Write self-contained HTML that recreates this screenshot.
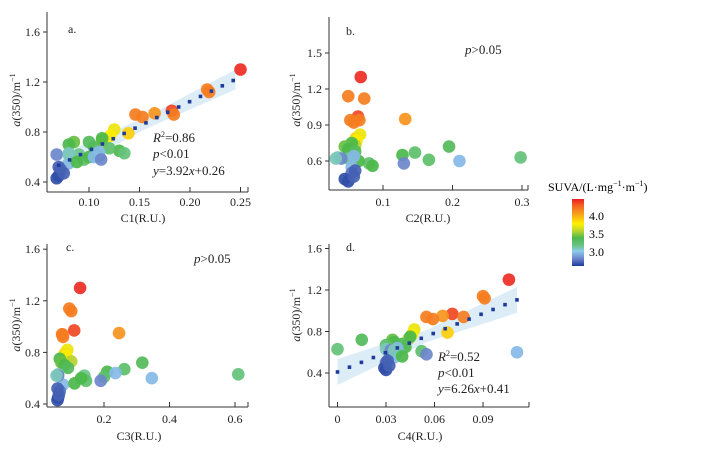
<!DOCTYPE html>
<html><head><meta charset="utf-8">
<style>
html,body{margin:0;padding:0;background:#fff;}
svg{display:block;font-family:"Liberation Serif",serif;}
</style></head>
<body>
<svg id="fig" width="705" height="456" viewBox="0 0 705 456">
<defs>
<linearGradient id="cbgrad" x1="0" y1="1" x2="0" y2="0">
<stop offset="0" stop-color="#1c3c9c"/>
<stop offset="0.11" stop-color="#6d86cc"/>
<stop offset="0.22" stop-color="#8ecbee"/>
<stop offset="0.3" stop-color="#6cc58a"/>
<stop offset="0.42" stop-color="#4cb84a"/>
<stop offset="0.52" stop-color="#b8d430"/>
<stop offset="0.63" stop-color="#fff000"/>
<stop offset="0.8" stop-color="#f7941d"/>
<stop offset="0.9" stop-color="#f26522"/>
<stop offset="1" stop-color="#ed1c24"/>
</linearGradient>
</defs>
<g id="plots"></g>
<g>
<text x="548" y="191" font-size="12">SUVA/(L·mg<tspan font-size="8" dy="-5">−1</tspan><tspan dy="5">·m</tspan><tspan font-size="8" dy="-5">−1</tspan><tspan dy="5">)</tspan></text>
<rect x="572" y="199" width="12" height="67" fill="url(#cbgrad)"/>
<text x="589" y="220" font-size="12">4.0</text>
<text x="589" y="238" font-size="12">3.5</text>
<text x="589" y="256" font-size="12">3.0</text>
</g>
</svg>
<script>
// shared sample values
const a350 = [1.30,1.14,1.12,0.97,0.94,0.95,0.94,0.92,0.79,0.82,0.77,0.73,0.75,0.72,0.70,0.72,0.65,0.67,0.63,0.61,0.62,0.58,0.60,0.68,0.63,0.60,0.64,0.55,0.58,0.62,0.50,0.45,0.43,0.47,0.52,0.62,0.56];
const suva = [4.4,4.1,4.1,4.3,4.1,4.0,4.1,4.1,3.8,3.65,3.7,3.5,3.3,3.35,3.3,3.25,3.3,3.2,3.15,3.2,3.1,3.2,3.3,3.25,3.05,2.95,2.95,2.95,2.8,2.8,2.75,2.65,2.65,2.7,2.7,3.05,3.3];
const c1 = [0.250,0.217,0.219,0.182,0.184,0.165,0.146,0.153,0.139,0.125,0.121,0.113,0.113,0.085,0.080,0.100,0.130,0.120,0.135,0.110,0.090,0.095,0.100,0.105,0.080,0.105,0.110,0.080,0.112,0.068,0.072,0.070,0.068,0.075,0.070,0.080,0.088];
const c2 = [0.068,0.050,0.073,0.064,0.066,0.132,0.053,0.058,0.061,0.067,0.062,0.060,0.055,0.045,0.050,0.195,0.128,0.146,0.298,0.166,0.050,0.080,0.065,0.060,0.035,0.210,0.058,0.055,0.130,0.040,0.055,0.045,0.050,0.058,0.060,0.032,0.085];
const c3 = [0.127,0.094,0.100,0.109,0.072,0.246,0.073,0.075,0.080,0.088,0.085,0.100,0.065,0.070,0.080,0.317,0.210,0.262,0.610,0.200,0.140,0.145,0.130,0.090,0.060,0.346,0.235,0.075,0.190,0.060,0.065,0.060,0.058,0.062,0.058,0.055,0.110];
const c4 = [0.106,0.090,0.091,0.071,0.078,0.065,0.055,0.059,0.068,0.0475,0.046,0.044,0.045,0.034,0.035,0.015,0.042,0.030,0.000,0.052,0.038,0.036,0.033,0.040,0.030,0.111,0.037,0.035,0.055,0.033,0.030,0.029,0.030,0.032,0.031,0.035,0.040];
// tick labels
const ticksA = [0.10,0.15,0.20,0.25], ticksAY = [0.4,0.8,1.2,1.6];
const ticksB = [0.1,0.2,0.3], ticksBY = [0.6,0.9,1.2,1.5];
const ticksC = [0.2,0.4,0.6], ticksCY = [0.4,0.8,1.2,1.6];
const ticksD = [0,0.03,0.06,0.09], ticksDY = [0.4,0.8,1.2,1.6];
// regression fits
const fitA = [3.92,0.26], fitD = [6.26,0.41];

const NS="http://www.w3.org/2000/svg";
const root=document.getElementById('plots');
function mk(tag,attrs,parent){const e=document.createElementNS(NS,tag);for(const k in attrs)e.setAttribute(k,attrs[k]);(parent||root).appendChild(e);return e;}
const cstops=[[2.6,[28,60,156]],[2.8,[109,134,204]],[3.0,[142,203,238]],[3.1,[108,197,138]],[3.3,[76,184,74]],[3.5,[184,212,48]],[3.7,[255,235,0]],[4.0,[247,148,29]],[4.2,[242,101,34]],[4.45,[237,28,36]]];
function col(v){if(v<=cstops[0][0])return 'rgb('+cstops[0][1]+')';for(let i=1;i<cstops.length;i++){if(v<=cstops[i][0]){const a=cstops[i-1],b=cstops[i],t=(v-a[0])/(b[0]-a[0]);return 'rgb('+a[1].map((c,j)=>Math.round(c+(b[1][j]-c)*t)).join(',')+')';}}return 'rgb('+cstops[cstops.length-1][1]+')';}

const panels=[
 {id:'a',xs:c1,sx:x=>89+(x-0.10)*1010,sy:y=>182-(y-0.4)*125,ax:[47,248],ay:[12,192],xt:ticksA,yt:ticksAY,xf:2,yf:1,xl:'C1(R.U.)',xlx:143,tly:206,xly:222,lx:68,ly:33,ylx:20,yly:100,fit:fitA,fr:[0.07,0.245],fstep:0.0108,band:[6,10]},
 {id:'b',xs:c2,sx:x=>313.5+x*695,sy:y=>161-(y-0.6)*120,ax:[329,528],ay:[17,190],xt:ticksB,yt:ticksBY,xf:1,yf:1,xl:'C2(R.U.)',xlx:428,tly:206,xly:222,lx:346,ly:35,ylx:300,yly:100},
 {id:'c',xs:c3,sx:x=>38.5+x*327.5,sy:y=>404-(y-0.4)*129,ax:[47,248],ay:[244,407],xt:ticksC,yt:ticksCY,xf:1,yf:1,xl:'C3(R.U.)',xlx:139,tly:423,xly:440,lx:66,ly:251,ylx:20,yly:325},
 {id:'d',xs:c4,sx:x=>337.5+x*1617,sy:y=>373-(y-0.4)*103.75,ax:[329,529],ay:[244,407],xt:ticksD,yt:ticksDY,xf:2,yf:1,xl:'C4(R.U.)',xlx:420,tly:423,xly:440,lx:346,ly:251,ylx:300,yly:315,fit:fitD,fr:[0,0.111],fstep:0.0074,band:[6,13]}
];
const stats={a:[[153,142,'R','0.86'],[153,158],[153,175,'3.92','0.26']],d:[[438,361,'R','0.52'],[438,377],[438,393,'6.26','0.41']]};

panels.forEach(p=>{
 const g=mk('g',{});
 
 
 const yax=mk('line',{x1:p.ax[0],y1:p.ay[0],x2:p.ax[0],y2:p.ay[1],stroke:'#333','stroke-width':1},g);
 
 
 const xax=mk('line',{x1:p.ax[0],y1:p.ay[1],x2:p.ax[1],y2:p.ay[1],stroke:'#333','stroke-width':1},g);
 
 
 mk('line',{x1:p.ax[1],y1:p.ay[1],x2:p.ax[1],y2:p.ay[1]-5,stroke:'#333'},g);
 p.xt.forEach(v=>{const x=p.sx(v);
  mk('line',{x1:x,y1:p.ay[1],x2:x,y2:p.ay[1]-5,stroke:'#333'},g);
  const t=mk('text',{x:x,y:p.tly,'text-anchor':'middle','font-size':12,fill:'#222'},g);
  t.textContent=v===0?'0':v.toFixed(p.xf);
  
  });
 p.yt.forEach(v=>{const y=p.sy(v);
  mk('line',{x1:p.ax[0]-4,y1:y,x2:p.ax[0],y2:y,stroke:'#333'},g);
  const t=mk('text',{x:p.ax[0]-7,y:y+4,'text-anchor':'end','font-size':12,fill:'#222'},g);
  t.textContent=v.toFixed(p.yf);
  
  });
 const xl=mk('text',{x:p.xlx,y:p.xly,'text-anchor':'middle','font-size':12,fill:'#222'},g);
 xl.textContent=p.xl;
 
 
 const yl=mk('text',{x:0,y:0,'text-anchor':'middle','font-size':12,fill:'#222',transform:`translate(${p.ylx},${p.yly}) rotate(-90)`},g);
 yl.innerHTML='<tspan font-style="italic">a</tspan>(350)/m<tspan font-size="8" dy="-5">−1</tspan>';
 
 
 const lt=mk('text',{x:p.lx,y:p.ly,'font-size':12,fill:'#222'},g);
 lt.textContent=p.id+'.';
 
 
 if(p.fit){const [m,b]=p.fit,x0=p.fr[0],x1=p.fr[1],xm=(x0+x1)/2;
  const ptsU=[],ptsL=[];
  [x0,xm,x1].forEach((x,i)=>{const w=i===1?p.band[0]:p.band[1];ptsU.push([p.sx(x),p.sy(m*x+b)-w]);ptsL.unshift([p.sx(x),p.sy(m*x+b)+w]);});
  const band=mk('polygon',{points:ptsU.concat(ptsL).map(q=>q.join(',')).join(' '),fill:'#cfe6f5','fill-opacity':0.7},g);
  
  }
 p.xs.forEach((x,i)=>{const c=mk('circle',{cx:p.sx(x),cy:p.sy(a350[i]),r:6.3,fill:col(suva[i]),'fill-opacity':0.92},g);
  
  });
 if(p.fit){const [m,b]=p.fit;
  for(let x=p.fr[0];x<=p.fr[1]+1e-9;x+=p.fstep){const d=mk('rect',{x:p.sx(x)-1.8,y:p.sy(m*x+b)-1.8,width:3.6,height:3.6,fill:'#1f3c9a'},g);
   
   }}
 if(stats[p.id]){const s=stats[p.id];
  const t1=mk('text',{x:s[0][0],y:s[0][1],'font-size':13,fill:'#222'},g);
  t1.innerHTML='<tspan font-style="italic">R</tspan><tspan font-size="8" dy="-5">2</tspan><tspan dy="5">='+s[0][3]+'</tspan>';
  
  
  const t2=mk('text',{x:s[1][0],y:s[1][1],'font-size':13,fill:'#222'},g);
  t2.innerHTML='<tspan font-style="italic">p</tspan>&lt;0.01';
  
  
  const t3=mk('text',{x:s[2][0],y:s[2][1],'font-size':13,fill:'#222'},g);
  t3.innerHTML='<tspan font-style="italic">y</tspan>='+s[2][2]+'<tspan font-style="italic">x</tspan>+'+s[2][3];
  
  
 } else {
  const pos=p.id==='b'?[465,54]:[194,263];
  const t=mk('text',{x:pos[0],y:pos[1],'font-size':13,fill:'#222'},g);
  t.innerHTML='<tspan font-style="italic">p</tspan>&gt;0.05';
  
  
 }
});
</script>
</body></html>
